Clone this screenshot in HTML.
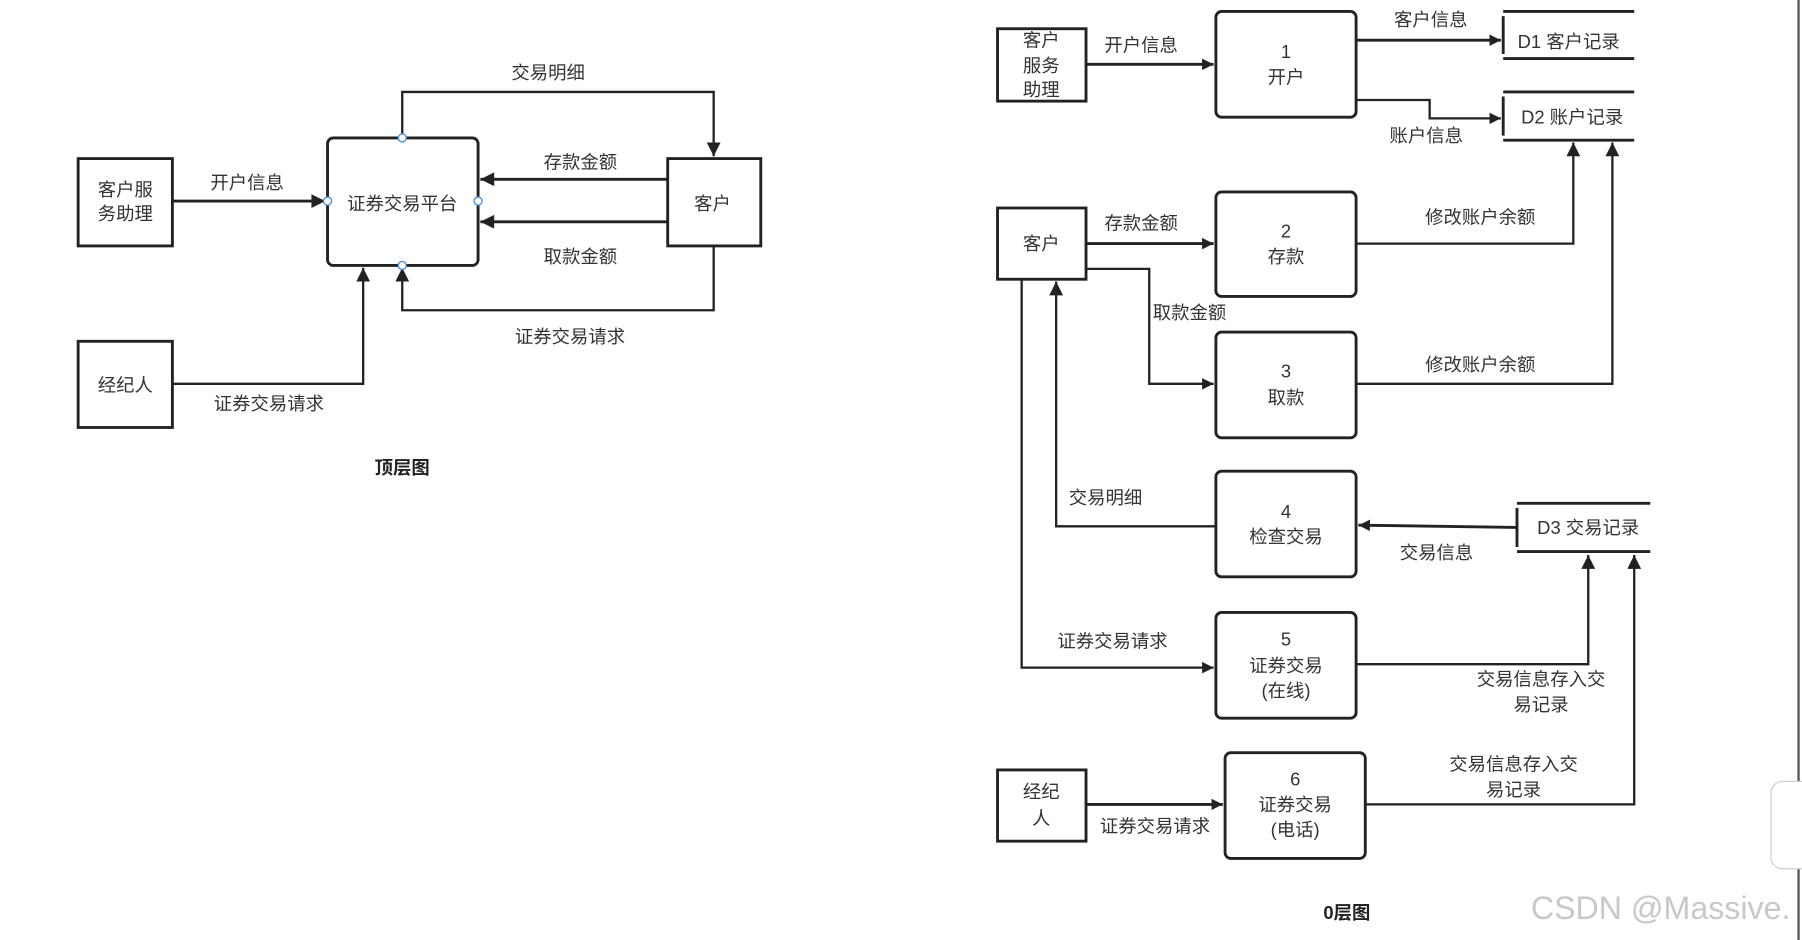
<!DOCTYPE html>
<html><head><meta charset="utf-8"><style>
html,body{margin:0;padding:0;background:#fff;}
svg{display:block;}
text{font-family:"Liberation Sans","Noto Sans CJK SC",sans-serif;font-size:16px;fill:#333;text-anchor:middle;dominant-baseline:central;}
.b{font-weight:bold;fill:#222;}
</style></head><body>
<svg width="1802" height="940" viewBox="0 0 1568 818" preserveAspectRatio="none" xmlns="http://www.w3.org/2000/svg">
<defs><marker id="a" viewBox="0 0 10 10" refX="10" refY="5" markerWidth="10" markerHeight="10" markerUnits="userSpaceOnUse" orient="auto"><path d="M0,0 L10,5 L0,10 z" fill="#222"/></marker>
<marker id="a2" viewBox="0 0 10 10" refX="10" refY="5" markerWidth="14" markerHeight="12" markerUnits="userSpaceOnUse" orient="auto"><path d="M0,0 L10,5 L0,10 z" fill="#222"/></marker></defs>
<g fill="none" stroke="#222" stroke-width="2.5">
<!-- left diagram -->
<rect x="68" y="138" width="82" height="76"/>
<rect x="285" y="120" width="131" height="111" rx="5"/>
<rect x="581" y="138" width="81" height="76"/>
<rect x="68" y="297" width="82" height="75"/>
<path d="M150,175 H283" marker-end="url(#a2)"/>
<path d="M350,120 V80 H621 V136" stroke-width="2" marker-end="url(#a2)"/>
<path d="M581,156 H418" marker-end="url(#a2)"/>
<path d="M581,193 H418" marker-end="url(#a2)"/>
<path d="M621,214 V270 H350 V233" stroke-width="2" marker-end="url(#a2)"/>
<path d="M150,334 H316 V233" stroke-width="2" marker-end="url(#a2)"/>
<!-- right diagram -->
<rect x="868" y="25" width="77" height="63"/>
<rect x="1058" y="10" width="122" height="92" rx="5"/>
<rect x="868" y="181" width="77" height="62"/>
<rect x="1058" y="167" width="122" height="91" rx="5"/>
<rect x="1058" y="289" width="122" height="92" rx="5"/>
<rect x="1058" y="410" width="122" height="92" rx="5"/>
<rect x="1058" y="533" width="122" height="92" rx="5"/>
<rect x="868" y="670" width="77" height="62"/>
<rect x="1066" y="655" width="122" height="92" rx="5"/>
<path d="M1308,10 H1422 M1308,51 H1422 M1308,14 V47"/>
<path d="M1308,80 H1422 M1308,122 H1422 M1308,84 V118"/>
<path d="M1320,438 H1436 M1320,480 H1436 M1320,442 V476"/>
<path d="M945,56 H1056" marker-end="url(#a)"/>
<path d="M1180,35 H1306" marker-end="url(#a)"/>
<path d="M1180,87 H1244 V103 H1306" stroke-width="2" marker-end="url(#a)"/>
<path d="M945,212 H1056" marker-end="url(#a)"/>
<path d="M1180,212 H1369 V124" stroke-width="2" marker-end="url(#a2)"/>
<path d="M945,234 H1000 V334 H1056" stroke-width="2" marker-end="url(#a)"/>
<path d="M1180,334 H1403 V124" stroke-width="2" marker-end="url(#a2)"/>
<path d="M889,243 V581 H1056" stroke-width="2" marker-end="url(#a)"/>
<path d="M1058,458 H919 V245" stroke-width="2" marker-end="url(#a2)"/>
<path d="M1320,459 L1182,457" marker-end="url(#a)"/>
<path d="M1180,578 H1382 V483" stroke-width="2" marker-end="url(#a2)"/>
<path d="M945,700 H1064" marker-end="url(#a)"/>
<path d="M1188,700 H1422 V483" stroke-width="2" marker-end="url(#a2)"/>
<path d="M1565,0 V818" stroke="#555" stroke-width="2"/>
<rect x="1541" y="680" width="40" height="76" rx="10" stroke="#ccc" stroke-width="1" fill="#fff"/>
</g>
<g fill="#fff" stroke="#4a90d9" stroke-width="1.2">
<circle cx="350" cy="120" r="3.5"/><circle cx="285" cy="175" r="3.5"/><circle cx="416" cy="175" r="3.5"/><circle cx="350" cy="231" r="3.5"/>
</g>
<text x="109" y="165">客户服</text><text x="109" y="186">务助理</text>
<text x="350" y="177">证券交易平台</text>
<text x="620" y="177">客户</text>
<text x="109" y="335">经纪人</text>
<text x="215" y="159">开户信息</text>
<text x="477" y="63">交易明细</text>
<text x="505" y="141">存款金额</text>
<text x="505" y="223">取款金额</text>
<text x="496" y="293">证券交易请求</text>
<text x="234" y="351">证券交易请求</text>
<text x="350" y="407" class="b">顶层图</text>

<text x="906" y="35">客户</text><text x="906" y="57">服务</text><text x="906" y="78">助理</text>
<text x="1119" y="45">1</text><text x="1119" y="67">开户</text>
<text x="993" y="39">开户信息</text>
<text x="1245" y="17">客户信息</text>
<text x="1365" y="36">D1 客户记录</text>
<text x="1368" y="102">D2 账户记录</text>
<text x="1241" y="118">账户信息</text>
<text x="906" y="212">客户</text>
<text x="1119" y="201">2</text><text x="1119" y="223">存款</text>
<text x="993" y="194">存款金额</text>
<text x="1288" y="189">修改账户余额</text>
<text x="1035" y="272">取款金额</text>
<text x="1119" y="323">3</text><text x="1119" y="346">取款</text>
<text x="1288" y="317">修改账户余额</text>
<text x="962" y="433">交易明细</text>
<text x="1119" y="445">4</text><text x="1119" y="467">检查交易</text>
<text x="1382" y="459">D3 交易记录</text>
<text x="1250" y="481">交易信息</text>
<text x="968" y="558">证券交易请求</text>
<text x="1119" y="556">5</text><text x="1119" y="579">证券交易</text><text x="1119" y="601">(在线)</text>
<text x="1341" y="591">交易信息存入交</text><text x="1341" y="613">易记录</text>
<text x="906" y="689">经纪</text><text x="906" y="712">人</text>
<text x="1127" y="678">6</text><text x="1127" y="700">证券交易</text><text x="1127" y="722">(电话)</text>
<text x="1005" y="719">证券交易请求</text>
<text x="1317" y="665">交易信息存入交</text><text x="1317" y="687">易记录</text>
<text x="1172" y="794" class="b">0层图</text>
<text x="1445" y="790" style="font-size:28px;fill:#c8c8c8;">CSDN @Massive.</text>
</svg>
</body></html>
